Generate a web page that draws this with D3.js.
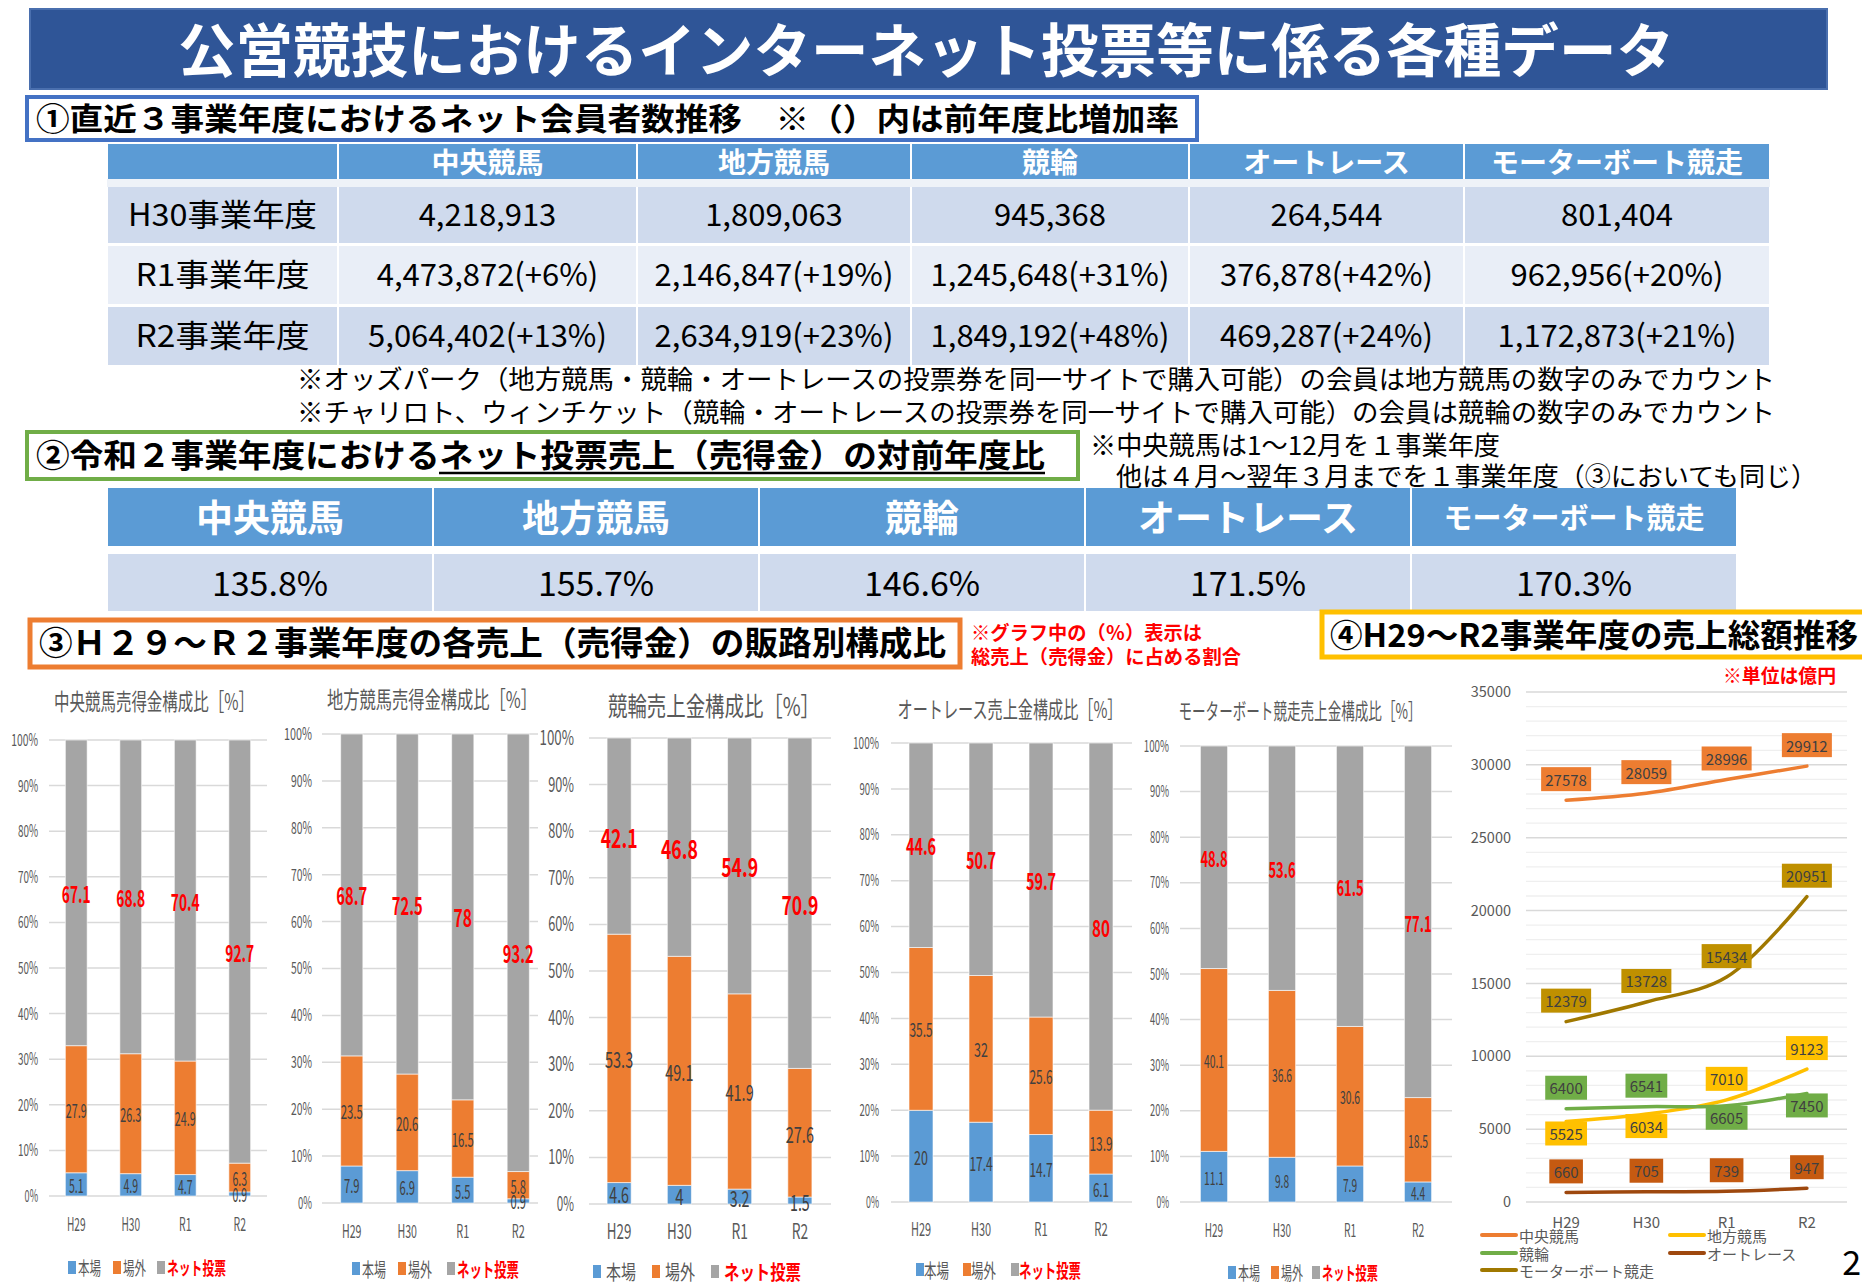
<!DOCTYPE html>
<html><head><meta charset="utf-8">
<script src="https://cdn.jsdelivr.net/npm/d3@7"></script>
<style>body{margin:0;background:#fff} svg{display:block}</style>
</head><body><svg id="c" width="1862" height="1284"></svg>
<script>
// ---------------- DATA ----------------
const compCategories = ["中央競馬","地方競馬","競輪","オートレース","モーターボート競走"];
const fiscalYears = ["H30事業年度","R1事業年度","R2事業年度"];
const membersH30 = [4218913,1809063,945368,264544,801404];
const membersR1 = [4473872,2146847,1245648,376878,962956];
const membersR2 = [5064402,2634919,1849192,469287,1172873];
const growthR1 = [6,19,31,42,20];
const growthR2 = [13,23,48,24,21];
const netRatioR2 = [135.8,155.7,146.6,171.5,170.3];

const years = ["H29","H30","R1","R2"];
const channelNames = ["本場","場外","ネット投票"];
const pctTicks = [0,10,20,30,40,50,60,70,80,90,100];

const chuoHonjo = [5.1,4.9,4.7,0.9];
const chuoJogai = [27.9,26.3,24.9,6.3];
const chuoNet   = [67.1,68.8,70.4,92.7];
const chihoHonjo = [7.9,6.9,5.5,0.9];
const chihoJogai = [23.5,20.6,16.5,5.8];
const chihoNet   = [68.7,72.5,78,93.2];
const keirinHonjo = [4.6,4,3.2,1.5];
const keirinJogai = [53.3,49.1,41.9,27.6];
const keirinNet   = [42.1,46.8,54.9,70.9];
const autoHonjo = [20,17.4,14.7,6.1];
const autoJogai = [35.5,32,25.6,13.9];
const autoNet   = [44.6,50.7,59.7,80];
const boatHonjo = [11.1,9.8,7.9,4.4];
const boatJogai = [40.1,36.6,30.6,18.5];
const boatNet   = [48.8,53.6,61.5,77.1];

const salesChuo   = [27578,28059,28996,29912];
const salesChiho  = [5525,6034,7010,9123];
const salesKeirin = [6400,6541,6605,7450];
const salesAuto   = [660,705,739,947];
const salesBoat   = [12379,13728,15434,20951];
const salesTicks  = [0,5000,10000,15000,20000,25000,30000,35000];

// ---------------- HELPERS ----------------
const JP = "'Noto Sans CJK JP','Noto Sans',sans-serif";
const svg = d3.select('#c');
svg.append('rect').attr('width',1862).attr('height',1284).attr('fill','#fff');

function txt(g, x, y, s, o={}) {
  const fs = o.fs||16;
  const dy = (o.dy!==undefined) ? o.dy : (fs>=24 ? -3 : 0);
  const t = g.append('text').attr('x',x).attr('y',y+dy).text(s)
    .attr('font-family', JP)
    .attr('font-size', fs).attr('font-weight', o.fw||400).attr('fill', o.fill||'#000')
    .attr('text-anchor', o.anchor||'start').attr('dominant-baseline','central');
  if (o.w) t.attr('textLength', o.w).attr('lengthAdjust','spacingAndGlyphs');
  return t;
}
function unitsOf(s){ let u=0; for(const ch of s){ u += (ch==='.')?0.35:1; } return u; }

// ---------------- TITLE ----------------
svg.append('rect').attr('x',30).attr('y',9).attr('width',1797).attr('height',80)
  .attr('fill','#2F5597').attr('stroke','#4A6FAE').attr('stroke-width',2);
txt(svg, 926, 50, "公営競技におけるインターネット投票等に係る各種データ", {fs:58, fw:700, fill:'#fff', anchor:'middle', w:1496});

// ---------------- SECTION 1 ----------------
svg.append('rect').attr('x',27).attr('y',97).attr('width',1170).attr('height',43)
  .attr('fill','#fff').attr('stroke','#4472C4').attr('stroke-width',4);
txt(svg, 36, 119, "①直近３事業年度におけるネット会員者数推移　※（）内は前年度比増加率", {fs:31, fw:700, w:1143});

const t1Cols = [107,338,637,911,1189,1464,1770];
const t1Rows = [[144,179],[187,243],[246,304],[307,365]];
const t1Fill = ['#5B9BD5','#CFDAED','#E9EEF7','#CFDAED'];
const fmt = d3.format(',');
const t1Body = [
  membersH30.map(v=>fmt(v)),
  membersR1.map((v,i)=>`${fmt(v)}(+${growthR1[i]}%)`),
  membersR2.map((v,i)=>`${fmt(v)}(+${growthR2[i]}%)`)
];
t1Rows.forEach((r,ri)=>{
  for (let c=0;c<6;c++){
    svg.append('rect').attr('x',t1Cols[c]+1).attr('y',r[0]).attr('width',t1Cols[c+1]-t1Cols[c]-2).attr('height',r[1]-r[0]).attr('fill',t1Fill[ri]);
  }
});
svg.append('rect').attr('x',107).attr('y',179).attr('width',1663).attr('height',8).attr('fill','#EEF2F8');
compCategories.forEach((c,i)=>{
  txt(svg,(t1Cols[i+1]+t1Cols[i+2])/2, 162, c, {fs:28, fw:700, fill:'#fff', anchor:'middle', dy:-1});
});
fiscalYears.forEach((fy,ri)=>{
  const cy = (t1Rows[ri+1][0]+t1Rows[ri+1][1])/2;
  txt(svg,(t1Cols[0]+t1Cols[1])/2, cy, fy, {fs:31, anchor:'middle', w: fy.length>6 ? 189 : 174});
  t1Body[ri].forEach((s,ci)=>{
    txt(svg,(t1Cols[ci+1]+t1Cols[ci+2])/2, cy, s, {fs:31, anchor:'middle'});
  });
});
txt(svg, 297, 380, "※オッズパーク（地方競馬・競輪・オートレースの投票券を同一サイトで購入可能）の会員は地方競馬の数字のみでカウント", {fs:26, w:1478});
txt(svg, 297, 413, "※チャリロト、ウィンチケット（競輪・オートレースの投票券を同一サイトで購入可能）の会員は競輪の数字のみでカウント", {fs:26, w:1478});

// ---------------- SECTION 2 ----------------
svg.append('rect').attr('x',27).attr('y',432).attr('width',1051).attr('height',47)
  .attr('fill','#fff').attr('stroke','#70AD47').attr('stroke-width',4);
txt(svg, 36, 456, "②令和２事業年度におけるネット投票売上（売得金）の対前年度比", {fs:32, fw:700, w:1009});
svg.append('line').attr('x1',439).attr('x2',1045).attr('y1',473).attr('y2',473).attr('stroke','#000').attr('stroke-width',2.5);
txt(svg, 1090, 446, "※中央競馬は1～12月を１事業年度", {fs:26, w:410});
txt(svg, 1116, 477, "他は４月～翌年３月までを１事業年度（③においても同じ）", {fs:26, w:701});

const t2x = d3.range(6).map(i=>107+i*326);
compCategories.forEach((c,i)=>{
  svg.append('rect').attr('x',t2x[i]+1).attr('y',488).attr('width',324).attr('height',58).attr('fill','#5B9BD5');
  svg.append('rect').attr('x',t2x[i]+1).attr('y',554).attr('width',324).attr('height',57).attr('fill','#CFDAED');
  const big = c.length<=6;
  txt(svg, t2x[i]+163, 517, c, {fs: big?37:29, fw:700, fill:'#fff', anchor:'middle', dy:-1});
  txt(svg, t2x[i]+163, 584, netRatioR2[i].toFixed(1)+'%', {fs:34, anchor:'middle'});
});

// ---------------- SECTION 3 header ----------------
svg.append('rect').attr('x',30).attr('y',620).attr('width',930).attr('height',47)
  .attr('fill','#fff').attr('stroke','#ED7D31').attr('stroke-width',5);
txt(svg, 39, 644, "③Ｈ２９～Ｒ２事業年度の各売上（売得金）の販路別構成比", {fs:33, fw:700, w:907});
txt(svg, 971, 631, "※グラフ中の（％）表示は", {fs:19, fw:700, fill:'#FF0000', w:231});
txt(svg, 971, 655, "総売上（売得金）に占める割合", {fs:19, fw:700, fill:'#FF0000', w:270});

// ---------------- SECTION 4 header ----------------
svg.append('rect').attr('x',1322).attr('y',612).attr('width',560).attr('height',45)
  .attr('fill','#fff').attr('stroke','#FFC000').attr('stroke-width',5);
txt(svg, 1330, 635, "④H29～R2事業年度の売上総額推移", {fs:32, fw:700, w:528, dy:-2});
txt(svg, 1723, 674, "※単位は億円", {fs:19, fw:700, fill:'#FF0000', w:113});

// ---------------- BAR CHARTS ----------------
const chColors = {honjo:'#5B9BD5', jogai:'#ED7D31', net:'#A5A5A5'};
const barCharts = [
  {title:"中央競馬売得金構成比［%］", honjo:chuoHonjo, jogai:chuoJogai, net:chuoNet,
   x0:49,x1:267,gx0:49,gx1:267,yb:1196,yt:740,tickX:38,tt:{cx:154,y:700,w:200,fs:23},catY:1223,legY:1267,leg:[68,113,157],
   st:{tickFs:17,tickCw:6.7,catFs:18,catCw:6.2,netFs:23,netU:8.6,segFs:19,segU:6.2,legFs:18,legW2:23,legWn:59,legGap:10}},
  {title:"地方競馬売得金構成比［%］", honjo:chihoHonjo, jogai:chihoJogai, net:chihoNet,
   x0:324,x1:546,gx0:322,gx1:538,yb:1203,yt:734,tickX:312,tt:{cx:432,y:698,w:210,fs:23},catY:1230,legY:1268,leg:[352,398,447],
   st:{tickFs:17,tickCw:7.0,catFs:18,catCw:6.5,netFs:24,netU:9.2,segFs:19,segU:6.6,legFs:19,legW2:24,legWn:62,legGap:10}},
  {title:"競輪売上金構成比［%］", honjo:keirinHonjo, jogai:keirinJogai, net:keirinNet,
   x0:589,x1:830,gx0:589,gx1:831,yb:1204,yt:738,tickX:574,tt:{cx:714,y:704,w:212,fs:26},catY:1230,legY:1271,leg:[593,652,711],
   st:{tickFs:20,tickCw:8.6,catFs:21,catCw:8.2,netFs:26,netU:11,segFs:22,segU:8.4,legFs:20,legW2:30,legWn:77,legGap:13}},
  {title:"オートレース売上金構成比［%］", honjo:autoHonjo, jogai:autoJogai, net:autoNet,
   x0:891,x1:1131,gx0:891,gx1:1132,yb:1202,yt:743,tickX:879,tt:{cx:1010,y:708,w:225,fs:23},catY:1228,legY:1269,leg:[916,963,1011],
   st:{tickFs:16,tickCw:6.5,catFs:18,catCw:6.7,netFs:23,netU:9,segFs:19,segU:6.9,legFs:19,legW2:25,legWn:62,legGap:8}},
  {title:"モーターボート競走売上金構成比［%］", honjo:boatHonjo, jogai:boatJogai, net:boatNet,
   x0:1180,x1:1452,gx0:1180,gx1:1452,yb:1202,yt:746,tickX:1169,tt:{cx:1300,y:709,w:243,fs:22},catY:1229,legY:1272,leg:[1228,1271,1312],
   st:{tickFs:16,tickCw:6.3,catFs:18,catCw:6.1,netFs:22,netU:8.1,segFs:18,segU:6.0,legFs:18,legW2:22,legWn:56,legGap:10}}
];

function drawBars(cfg){
  const st = cfg.st;
  const g = svg.append('g');
  const rows = years.map((yr,i)=>({year:yr, honjo:cfg.honjo[i], jogai:cfg.jogai[i], net:cfg.net[i]}));
  const keys = ['honjo','jogai','net'];
  const series = d3.stack().keys(keys).offset(d3.stackOffsetExpand)(rows);
  const x = d3.scaleBand().domain(years).range([cfg.x0,cfg.x1]).paddingInner(0.6).paddingOuter(0.3);
  const y = d3.scaleLinear().domain([0,1]).range([cfg.yb,cfg.yt]);

  g.append('g').selectAll('line').data(pctTicks).join('line')
    .attr('x1',cfg.gx0).attr('x2',cfg.gx1).attr('y1',d=>y(d/100)).attr('y2',d=>y(d/100))
    .attr('stroke','#D9D9D9').attr('stroke-width',1.5);

  const ax = g.append('g').attr('transform',`translate(${cfg.tickX},0)`)
    .call(d3.axisLeft(y).tickValues(pctTicks.map(d=>d/100)).tickFormat(d3.format('.0%')).tickSize(0).tickPadding(0));
  ax.select('.domain').remove();
  ax.selectAll('text').attr('font-family',JP).attr('font-size',st.tickFs).attr('fill','#595959')
    .each(function(){ const s=this.textContent; d3.select(this).attr('textLength', s.length*st.tickCw).attr('lengthAdjust','spacingAndGlyphs'); });

  g.append('g').selectAll('g').data(series).join('g').attr('fill',d=>chColors[d.key])
    .selectAll('rect').data(d=>d).join('rect')
    .attr('x',d=>x(d.data.year)).attr('width',x.bandwidth())
    .attr('y',d=>y(d[1])).attr('height',d=>y(d[0])-y(d[1]))
    .attr('stroke','#ffffff').attr('stroke-opacity',0.6).attr('stroke-width',1);

  series.forEach(s=>{
    const isNet = s.key==='net';
    g.append('g').selectAll('text').data(s).join('text')
      .attr('x',d=>x(d.data.year)+x.bandwidth()/2)
      .attr('y',d=>y((d[0]+d[1])/2))
      .attr('text-anchor','middle').attr('dominant-baseline','central')
      .attr('font-family',JP)
      .attr('font-size', isNet?st.netFs:st.segFs)
      .attr('font-weight', isNet?700:400)
      .attr('fill', isNet?'#FF0000':'#404040')
      .text(d=>String(d.data[s.key]))
      .attr('textLength', d=>unitsOf(String(d.data[s.key]))*(isNet?st.netU:st.segU))
      .attr('lengthAdjust','spacingAndGlyphs');
  });

  g.append('g').selectAll('text').data(years).join('text')
    .attr('x',d=>x(d)+x.bandwidth()/2).attr('y',cfg.catY)
    .attr('text-anchor','middle').attr('dominant-baseline','central')
    .attr('font-family',JP).attr('font-size',st.catFs).attr('fill','#595959')
    .text(d=>d).attr('textLength',d=>d.length*st.catCw).attr('lengthAdjust','spacingAndGlyphs');

  txt(g, cfg.tt.cx, cfg.tt.y, cfg.title, {fs:cfg.tt.fs, fill:'#595959', anchor:'middle', w:cfg.tt.w, dy:0});

  keys.forEach((k,i)=>{
    const sx = cfg.leg[i];
    g.append('rect').attr('x',sx).attr('y',cfg.legY-6).attr('width',8).attr('height',13).attr('fill',chColors[k]);
    const isNet = k==='net';
    txt(g, sx+st.legGap, cfg.legY, channelNames[i], {fs:st.legFs, fw:isNet?700:400, fill:isNet?'#FF0000':'#595959', w:isNet?st.legWn:st.legW2, dy:0});
  });
}
barCharts.forEach(drawBars);

// ---------------- LINE CHART ----------------
const lg = svg.append('g');
const lx = d3.scalePoint().domain(years).range([1526,1847]).padding(0.5);
const ly = d3.scaleLinear().domain([0,35000]).range([1202,692]);
lg.append('g').selectAll('line').data(d3.range(0,35001,1000).filter(v=>v%5000!==0)).join('line')
  .attr('x1',1526).attr('x2',1847).attr('y1',d=>ly(d)).attr('y2',d=>ly(d))
  .attr('stroke','#EFEFEF').attr('stroke-width',1.3);
lg.append('g').selectAll('line').data(salesTicks).join('line')
  .attr('x1',1526).attr('x2',1847).attr('y1',d=>ly(d)).attr('y2',d=>ly(d))
  .attr('stroke','#D9D9D9').attr('stroke-width',1.5);
const lax = lg.append('g').attr('transform','translate(1511,0)')
  .call(d3.axisLeft(ly).tickValues(salesTicks).tickFormat(d=>String(d)).tickSize(0).tickPadding(0));
lax.select('.domain').remove();
lax.selectAll('text').attr('font-family',JP).attr('font-size',14.5).attr('fill','#595959');
lg.append('g').selectAll('text').data(years).join('text')
  .attr('x',d=>lx(d)).attr('y',1221).attr('text-anchor','middle').attr('dominant-baseline','central')
  .attr('font-family',JP).attr('font-size',15).attr('fill','#595959').text(d=>d);

const lineSeries = [
  {name:"中央競馬", values:salesChuo, line:'#ED7D31', box:'#ED7D31', pos:['a','a','a','a']},
  {name:"地方競馬", values:salesChiho, line:'#FFC000', box:'#FFC000', pos:['b','b','a','a']},
  {name:"競輪", values:salesKeirin, line:'#70AD47', box:'#70AD47', pos:['a','a','b','b']},
  {name:"オートレース", values:salesAuto, line:'#9E480E', box:'#C55A11', pos:['a','a','a','a']},
  {name:"モーターボート競走", values:salesBoat, line:'#A07800', box:'#BF9000', pos:['a','a','a','a']}
];
const lineGen = d3.line().x((d,i)=>lx(years[i])).y(d=>ly(d)).curve(d3.curveCatmullRom.alpha(0.5));
lineSeries.forEach(s=>{
  lg.append('path').attr('d',lineGen(s.values)).attr('fill','none')
    .attr('stroke',s.line).attr('stroke-width',3.5).attr('stroke-linecap','round');
});
lineSeries.forEach(s=>{
  s.values.forEach((v,i)=>{
    const cx = lx(years[i]);
    const cy = ly(v) + (s.pos[i]==='a' ? -21 : 12);
    const label = String(v);
    const w = label.length*8.2 + 9;
    lg.append('rect').attr('x',cx-w/2).attr('y',cy-12).attr('width',w).attr('height',24).attr('fill',s.box);
    txt(lg, cx, cy, label, {fs:15, fill:'#404040', anchor:'middle'});
  });
});
const legPos = [[1482,1235],[1670,1235],[1482,1253],[1670,1253],[1482,1270]];
lineSeries.forEach((s,i)=>{
  const [lx0,ly0] = legPos[i];
  lg.append('line').attr('x1',lx0).attr('x2',lx0+34).attr('y1',ly0).attr('y2',ly0)
    .attr('stroke',s.line).attr('stroke-width',4).attr('stroke-linecap','round');
  txt(lg, lx0+37, ly0, s.name, {fs:15, fill:'#595959'});
});

// slide number
txt(svg, 1861, 1260, "2", {fs:34, anchor:'end', dy:0});
</script></body></html>
